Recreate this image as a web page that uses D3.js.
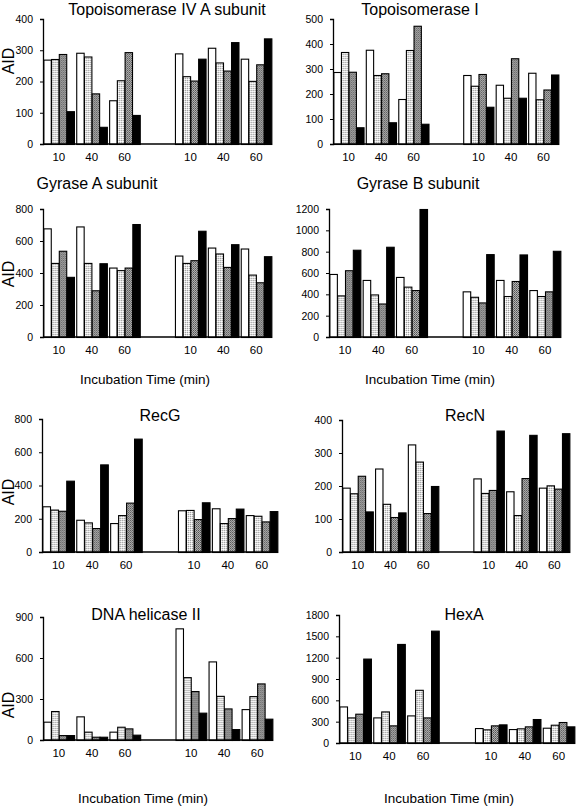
<!DOCTYPE html>
<html><head><meta charset="utf-8">
<script src="https://cdn.jsdelivr.net/npm/d3@7"></script>
<style>body{margin:0;background:#fff}svg{display:block}text{font-family:Arial,"Liberation Sans",sans-serif;fill:#000}</style>
</head><body>
<svg id="c" width="576" height="807"></svg>
<script>
// ---- data ----
const timeLabels = ["10","40","60"];
const slots = ["L10","L40","L60","gap","R10","R40","R60"];
const seriesNames = ["s1","s2","s3","s4"];
// each array: 6 groups (left 10,40,60, right 10,40,60) x 4 series
const topoIVA  = [[270,272,288,105],[292,280,162,55],[140,204,294,93],[290,217,203,273],[308,261,235,326],[273,202,255,338]];
const topoI    = [[288,368,289,67],[377,276,283,87],[180,376,473,81],[276,233,280,149],[237,185,343,185],[285,179,218,278]];
const gyrA     = [[679,463,539,376],[691,463,292,461],[434,418,434,706],[509,463,480,664],[559,522,438,580],[553,390,342,505]];
const gyrB     = [[591,390,626,818],[535,399,314,846],[563,472,440,1200],[428,377,324,777],[535,384,525,774],[440,384,428,808]];
const recG     = [[275,255,248,429],[194,178,144,527],[174,222,297,682],[251,253,198,299],[263,174,204,261],[222,218,184,246]];
const recN     = [[195,178,231,123],[253,146,106,120],[326,274,118,200],[223,179,188,368],[184,112,224,355],[195,202,192,360]];
const helII    = [[134,212,36,36],[173,61,24,24],[61,97,85,39],[817,460,358,200],[575,323,231,80],[226,321,414,156]];
const hexA     = [[514,360,412,1187],[360,444,248,1393],[388,748,360,1580],[210,192,248,262],[196,206,234,337],[215,257,295,234]];

const ticksTopoIVA = [0,100,200,300,400];
const ticksTopoI   = [0,100,200,300,400,500];
const ticksGyrA    = [0,200,400,600,800];
const ticksGyrB    = [0,200,400,600,800,1000,1200];
const ticksRecG    = [0,200,400,600,800];
const ticksRecN    = [0,100,200,300,400];
const ticksHelII   = [0,300,600,900];
const ticksHexA    = [0,300,600,900,1200,1500,1800];

const xTitle = "Incubation Time (min)";
const yTitle = "AID";

// ---- layout ----
const panels = [
 {title:"Topoisomerase IV A subunit", data:topoIVA, ticks:ticksTopoIVA, x0:43,x1:272,yT:19,yB:144, tx:167,ty:15, aid:61},
 {title:"Topoisomerase I", data:topoI, ticks:ticksTopoI, x0:333,x1:559,yT:19,yB:144, tx:420,ty:15},
 {title:"Gyrase A subunit", data:gyrA, ticks:ticksGyrA, x0:43,x1:272,yT:209,yB:337, tx:97,ty:189, aid:274, xl:384, xlx:145},
 {title:"Gyrase B subunit", data:gyrB, ticks:ticksGyrB, x0:329,x1:561,yT:209,yB:337, tx:418,ty:189, xl:384, xlx:430},
 {title:"RecG", data:recG, ticks:ticksRecG, x0:42,x1:278,yT:419,yB:552, tx:160,ty:421, aid:492},
 {title:"RecN", data:recN, ticks:ticksRecN, x0:342,x1:570,yT:420,yB:552, tx:465,ty:421},
 {title:"DNA helicase II", data:helII, ticks:ticksHelII, x0:43,x1:273,yT:617,yB:740, tx:146,ty:620, aid:705, xl:803, xlx:143},
 {title:"HexA", data:hexA, ticks:ticksHexA, x0:339,x1:575,yT:615,yB:743, tx:464,ty:620, xl:803, xlx:449}
];

const svg = d3.select("#c");
const defs = svg.append("defs");
const pl = defs.append("pattern").attr("id","pLight").attr("width",2).attr("height",2).attr("patternUnits","userSpaceOnUse");
pl.append("rect").attr("width",2).attr("height",2).attr("fill","#e4e4e4");
pl.append("rect").attr("x",0).attr("y",0).attr("width",1).attr("height",1).attr("fill","#a0a0a0");
pl.append("rect").attr("x",1).attr("y",1).attr("width",1).attr("height",1).attr("fill","#ffffff");
const pd = defs.append("pattern").attr("id","pDark").attr("width",2).attr("height",2).attr("patternUnits","userSpaceOnUse");
pd.append("rect").attr("width",2).attr("height",2).attr("fill","#b4b4b4");
pd.append("rect").attr("x",0).attr("y",0).attr("width",1).attr("height",1).attr("fill","#505050");
pd.append("rect").attr("x",1).attr("y",1).attr("width",1).attr("height",1).attr("fill","#707070");
const fills = ["#ffffff","url(#pLight)","url(#pDark)","#000000"];

panels.forEach(p => {
  const g = svg.append("g");
  const x = d3.scaleBand().domain(slots).range([p.x0, p.x1]).paddingInner(0.06).paddingOuter(0.01);
  const xs = d3.scaleBand().domain(seriesNames).range([0, x.bandwidth()]);
  const y = d3.scaleLinear().domain([0, d3.max(p.ticks)]).range([p.yB, p.yT]);
  const dataSlots = slots.filter(s => s !== "gap");

  // bars
  dataSlots.forEach((s, i) => {
    g.append("g").attr("transform", `translate(${x(s)},0)`)
      .selectAll("rect").data(p.data[i]).join("rect")
      .attr("x", (d, j) => xs(seriesNames[j]) + 0.5)
      .attr("y", d => y(d) + 0.5)
      .attr("width", xs.bandwidth() - 0.3)
      .attr("height", d => Math.max(0, p.yB - y(d)))
      .attr("fill", (d, j) => fills[j])
      .attr("stroke", "#000").attr("stroke-width", 1.1);
  });

  // y axis
  const ya = g.append("g").attr("transform", `translate(${p.x0},0)`)
    .call(d3.axisLeft(y).tickValues(p.ticks).tickSize(3).tickPadding(7).tickFormat(d3.format("d")));
  ya.select(".domain").attr("stroke-width", 1.3);
  ya.selectAll("text").style("font-size", "10.5px").attr("fill", "#000");

  // x axis
  const xa = g.append("g").attr("transform", `translate(0,${p.yB})`)
    .call(d3.axisBottom(x).tickValues(dataSlots).tickSize(0).tickPadding(9)
      .tickFormat(s => s.slice(1)));
  xa.select(".domain").attr("stroke-width", 1.3).attr("d", `M${p.x0},0H${p.x1}`);
  xa.selectAll("text").style("font-size", "11.5px").attr("fill", "#000");

  // title
  g.append("text").attr("x", p.tx).attr("y", p.ty).attr("text-anchor", "middle")
    .style("font-size", "16px").text(p.title);
  if (p.aid !== undefined) {
    g.append("text").attr("transform", `translate(14,${p.aid}) rotate(-90)`)
      .attr("text-anchor", "middle").style("font-size", "16px").text(yTitle);
  }
  if (p.xl !== undefined) {
    g.append("text").attr("x", p.xlx).attr("y", p.xl).attr("text-anchor", "middle")
      .style("font-size", "13.5px").text(xTitle);
  }
});
</script>
</body></html>
